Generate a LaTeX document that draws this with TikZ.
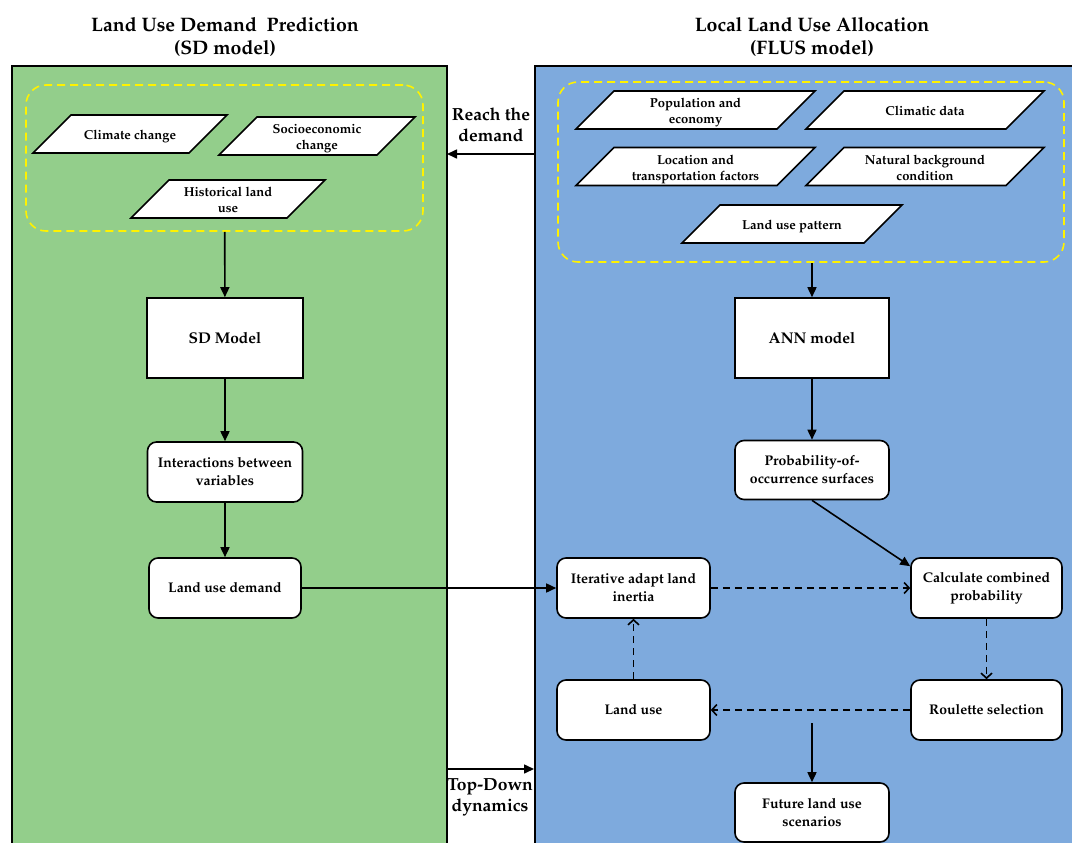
\documentclass[tikz,border=0pt]{standalone}
\usepackage[T1]{fontenc}
\usepackage{mathpazo}
\usetikzlibrary{shapes.geometric, arrows.meta, positioning}

\definecolor{sdgreen}{RGB}{147,206,139}
\definecolor{flblue}{RGB}{126,170,221}

\begin{document}
\begin{tikzpicture}[x=1pt, y=-1pt, font=\bfseries]
  \tikzstyle{panel}=[rectangle, draw=black, line width=1.6pt, anchor=north west, inner sep=0pt]
  \tikzstyle{group}=[rectangle, draw=yellow, line width=1.6pt, dash pattern=on 8pt off 5pt, rounded corners=20pt]
  \tikzstyle{title}=[align=center, font=\fontsize{19.5}{23}\selectfont\bfseries]
  \tikzstyle{label}=[align=center, font=\fontsize{17.5}{21}\selectfont\bfseries]
  \tikzstyle{process}=[rectangle, draw=black, line width=1.6pt, fill=white, align=center, text centered, font=\fontsize{15.5}{18}\selectfont\bfseries, minimum height=80pt]
  \tikzstyle{rprocess}=[rectangle, rounded corners=9pt, draw=black, line width=1.6pt, fill=white, align=center, font=\fontsize{14}{18}\selectfont\bfseries, minimum height=60pt]
  \tikzstyle{data}=[trapezium, trapezium left angle=45, trapezium right angle=135, trapezium stretches body, draw=black, line width=1.6pt, fill=white, align=center, font=\fontsize{13}{16}\selectfont\bfseries, inner xsep=1pt, text height=12pt, text depth=0.2pt, inner ysep=12.9pt]
  \tikzstyle{data2}=[data, text height=28pt, text depth=0.2pt, inner ysep=4.9pt]
  \tikzstyle{arrow}=[draw, line width=1.6pt, -{Triangle[length=10pt, width=9pt]}]
  \tikzstyle{darrow}=[draw, line width=1.6pt, dash pattern=on 7pt off 5pt, -{Straight Barb[length=5pt, width=11pt]}]

  \useasboundingbox (0,0) rectangle (1072,843);
  \begin{scope}
  \clip (0,0) rectangle (1072,843);
  \node (sdpanel) [panel, fill=sdgreen, minimum width=435pt, minimum height=800pt] at (11,65) {};
  \node (flpanel) [panel, fill=flblue, minimum width=560pt, minimum height=800pt] at (534,65) {};
  \end{scope}

  % titles
  \node (sdtitle) [title] at (225,37) {Land Use Demand\ \ Prediction\\(SD model)};
  \node (fltitle) [title] at (812,37) {Local Land Use Allocation\\(FLUS model)};

  % SD side
  \node (sdinput) [group, minimum width=397pt, minimum height=146pt] at (224.5,158) {};
  \node (climate) [data, minimum width=194pt] at (130,134) {Climate change};
  \node (socio) [data2, minimum width=196pt] at (317,136) {Socioeconomic\\change};
  \node (hist) [data2, minimum width=194pt] at (228,199) {Historical land\\use};
  \node (sd) [process, minimum width=156pt] at (225,338) {SD Model};
  \node (inter) [rprocess, minimum width=155pt] at (225,472) {Interactions between\\variables};
  \node (demand) [rprocess, minimum width=152pt] at (225,588) {Land use demand};

  % FLUS side
  \node (flinput) [group, minimum width=506pt, minimum height=180pt] at (811,172) {};
  \node (pop) [data2, minimum width=239pt] at (695.5,110) {Population and\\economy};
  \node (climdata) [data, minimum width=238pt] at (925,110) {Climatic data};
  \node (loc) [data2, minimum width=239pt] at (695.5,166.5) {Location and\\transportation factors};
  \node (nat) [data2, minimum width=238pt] at (925,166.5) {Natural background\\condition};
  \node (pattern) [data, minimum width=220pt] at (792,224) {Land use pattern};
  \node (ann) [process, minimum width=154pt] at (812,338) {ANN model};
  \node (prob) [rprocess, minimum width=154pt, minimum height=59pt] at (812,470) {Probability-of-\\occurrence surfaces};
  \node (iter) [rprocess, minimum width=153pt] at (633.5,588) {Iterative adapt land\\inertia};
  \node (calc) [rprocess, minimum width=151pt] at (986.5,588) {Calculate combined\\probability};
  \node (landuse) [rprocess, minimum width=153pt] at (633.5,710) {Land use};
  \node (roulette) [rprocess, minimum width=151pt] at (986.5,710) {Roulette selection};
  \node (future) [rprocess, minimum width=154pt, minimum height=59pt] at (812,812.5) {Future land use\\scenarios};
  \coordinate (split) at (812,723);

  % between the panels
  \node (reach) [label] at (491,125) {Reach the\\demand};
  \node (topdown) [label] at (490,797) {Top-Down\\dynamics};
  \coordinate (reachR) at (534,154);
  \coordinate (reachL) at (447,154);
  \coordinate (downL) at (446,769);
  \coordinate (downR) at (534,769);

  \draw [arrow] (sdinput) -- (sd);
  \draw [arrow] (sd) -- (inter);
  \draw [arrow] (inter) -- (demand);
  \draw [arrow] (demand) -- (iter);
  \draw [arrow] (flinput.south -| ann.north) -- (ann);
  \draw [arrow] (ann) -- (prob);
  \draw [arrow] (prob.south) -- ([yshift=-9pt]calc.north west);
  \draw [darrow] (iter) -- (calc);
  \draw [darrow] (calc) -- (roulette);
  \draw [darrow] (roulette) -- (landuse);
  \draw [darrow] (landuse) -- (iter);
  \draw [arrow] (split) -- (future);
  \draw [arrow] (reachR) -- (reachL);
  \draw [arrow] (downL) -- (downR);

\end{tikzpicture}
\end{document}
